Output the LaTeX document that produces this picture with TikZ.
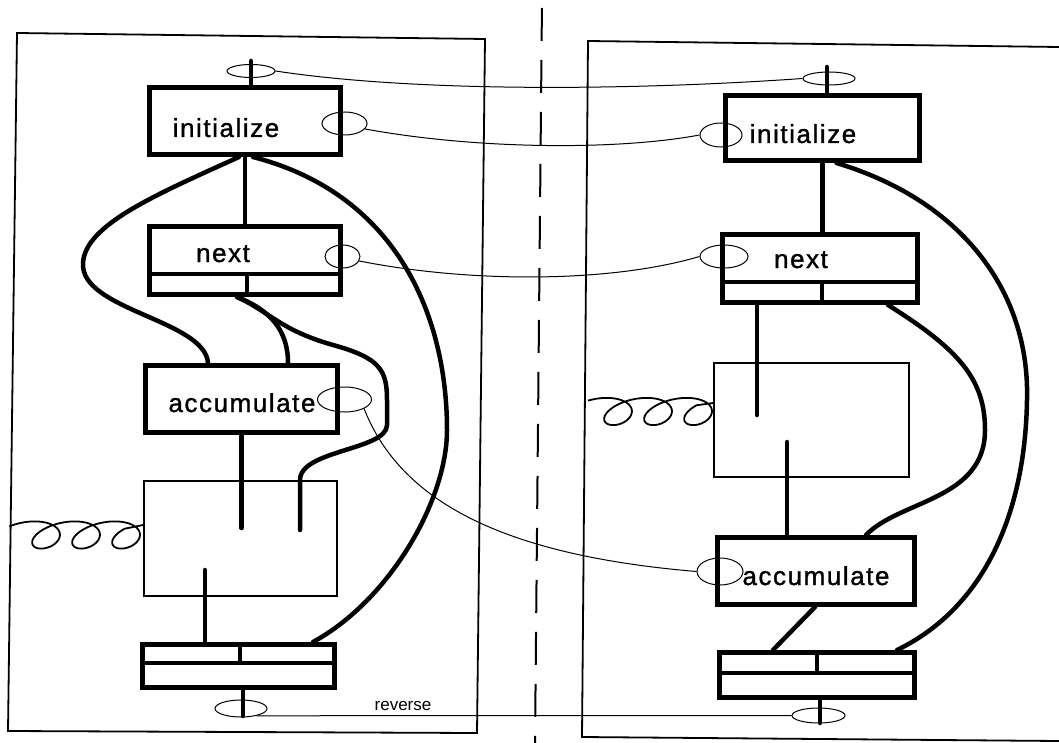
\documentclass[tikz,border=0pt]{standalone}
\usepackage{fontspec}
\setmainfont{Liberation Sans}
\newfontfamily\labfont[LetterSpace=6,FakeBold=1.2]{Liberation Sans}
\usetikzlibrary{shapes.geometric}
\begin{document}
\begin{tikzpicture}[x=1pt,y=-1pt,
  thickbox/.style={draw, rectangle, line width=5pt, inner sep=0pt},
  thinbox/.style={draw, rectangle, line width=1.8pt, inner sep=0pt},
  wire/.style={line width=4.5pt, line cap=round},
  thread/.style={line width=1pt},
  coilline/.style={line width=1.8pt},
  loopnode/.style={draw, ellipse, line width=1pt, inner sep=0pt},
  lab/.style={font=\labfont\fontsize{26}{30}\selectfont, inner sep=0pt, anchor=base},
  smalllab/.style={font=\fontsize{17}{20}\selectfont, inner sep=0pt, anchor=base},
  panel/.style={line width=1.8pt},
  divline/.style={line width=2pt, dash pattern=on 33pt off 19pt, dash phase=44pt}]
\useasboundingbox (0,0) rectangle (1059,743);

% panels and divider
\draw[panel] (17,33) -- (485,39) -- (477,733) -- (8,731) -- cycle;
\draw[panel] (1059,47) -- (588,41) -- (582,737) -- (1059,741);
\draw[divline] (542,0) -- (535,743);

% left boxes
\node[thickbox, minimum width=191, minimum height=67] (initL) at (245,121) {};
\node[thickbox, minimum width=191, minimum height=68] (nextL) at (245,260.5) {};
\node[thickbox, minimum width=192, minimum height=67] (accL) at (241.5,399) {};
\node[thinbox, minimum width=193, minimum height=115] (bigL) at (240.5,538.5) {};
\node[thickbox, minimum width=192, minimum height=43] (botL) at (238.5,666) {};

% right boxes
\node[thickbox, minimum width=194, minimum height=65] (initR) at (822.5,128) {};
\node[thickbox, minimum width=195, minimum height=68] (nextR) at (820,268.5) {};
\node[thinbox, minimum width=195, minimum height=114] (bigR) at (811.5,420) {};
\node[thickbox, minimum width=197, minimum height=67] (accR) at (816,571) {};
\node[thickbox, minimum width=195, minimum height=45] (botR) at (817,675) {};

% compartments
\draw[wire, line cap=butt] ([yshift=23]nextL.south west) -- ([yshift=23]nextL.south east);
\draw[wire, line cap=butt] ([xshift=2]nextL.south) -- ([xshift=2,yshift=23]nextL.south);
\draw[wire, line cap=butt] ([yshift=-21]botL.north west) -- ([yshift=-21]botL.north east);
\draw[wire, line cap=butt] ([xshift=1.5]botL.north) -- ([xshift=1.5,yshift=-21]botL.north);
\draw[wire, line cap=butt] ([yshift=23]nextR.south west) -- ([yshift=23]nextR.south east);
\draw[wire, line cap=butt] ([xshift=2]nextR.south) -- ([xshift=2,yshift=23]nextR.south);
\draw[wire, line cap=butt] ([yshift=-23]botR.north west) -- ([yshift=-23]botR.north east);
\draw[wire, line cap=butt] (botR.north) -- ([yshift=-23]botR.north);

% texts
\node[lab] (tInitL) at (226,137) {initialize};
\node[lab] (tNextL) at (223,262) {next};
\node[lab] (tAccL) at (242,412) {accumulate};
\node[lab] (tInitR) at (803,143) {initialize};
\node[lab] (tNextR) at (801,268) {next};
\node[lab] (tAccR) at (816,585) {accumulate};
\node[smalllab] (tRev) at (403,710) {reverse};

% loops
\node[loopnode, minimum width=48, minimum height=13] (ltl) at (251,71) {};
\node[loopnode, minimum width=45, minimum height=23] (lil) at (344.5,123.5) {};
\node[loopnode, minimum width=35, minimum height=23] (lnl) at (342.5,256.5) {};
\node[loopnode, minimum width=54, minimum height=25] (lal) at (344.5,399.5) {};
\node[loopnode, minimum width=52, minimum height=17] (lbl) at (241,708.5) {};
\node[loopnode, minimum width=52, minimum height=13] (rtl) at (829,78.5) {};
\node[loopnode, minimum width=42, minimum height=24] (ril) at (721,135) {};
\node[loopnode, minimum width=48, minimum height=23] (rnl) at (724,256.5) {};
\node[loopnode, minimum width=46, minimum height=27] (ral) at (720,571.5) {};
\node[loopnode, minimum width=53, minimum height=15] (rbl) at (818.5,715.5) {};

% threads between the two sides
\draw[thread] (ltl.east) .. controls (420,93) and (640,90) .. (rtl.west);
\draw[thread] (lil.-15) .. controls (480,150) and (620,150) .. (ril.west);
\draw[thread] (lnl.-15) .. controls (470,283) and (610,283) .. (rnl.west);
\draw[thread] (lal.-25) .. controls (400,500) and (500,555) .. (ral.west);
\draw[thread] (lbl.-25) -- (rbl.west);

% left wires
\coordinate (ltop) at (251,61);
\draw[wire] (ltop) -- (ltop |- initL.north);
\draw[wire] (initL.south) -- (nextL.north);
\draw[wire] ([xshift=-6]initL.south) .. controls (155,195) and (85,225) .. (83,263)
  .. controls (80,310) and (205,320) .. ([xshift=-33.5]accL.north);
\draw[wire] ([xshift=-8]nextL.south) .. controls (270,310) and (288,330) .. ([xshift=46.5]accL.north);
\coordinate (lendB) at (300,530);
\draw[wire] ([xshift=-8]nextL.south) .. controls (270,312) and (280,330) .. (333,345)
  .. controls (380,358) and (387,370) .. (387,400) -- (387,425)
  .. controls (387,450) and (300,450) .. (300,480) -- (lendB);
\draw[wire] ([xshift=8]initL.south) .. controls (400,195) and (447,320) .. (447,430)
  .. controls (447,500) and (390,600) .. ([xshift=74.5]botL.north);
\coordinate (lin1) at (241.5,528);
\draw[wire] (accL.south) -- (lin1);
\coordinate (lin2) at (205,570);
\draw[wire] (lin2) -- (lin2 |- botL.north);
\coordinate (lbot) at (243,716);
\draw[wire] (lbot |- botL.south) -- (lbot);

% right wires
\coordinate (rtop) at (827,67);
\draw[wire] (rtop) -- (rtop |- initR.north);
\draw[wire] (initR.south) -- (initR.south |- nextR.north);
\coordinate (rin1) at (757,415);
\draw[wire] (rin1 |- nextR.south) -- (rin1);
\coordinate (rin2) at (787,442);
\draw[wire] (rin2) -- (rin2 |- accR.north);
\draw[wire] ([xshift=68]nextR.south) .. controls (960,350) and (985,380) .. (985,430)
  .. controls (985,500) and (900,500) .. ([xshift=50]accR.north);
\draw[wire] ([xshift=14]initR.south) .. controls (960,200) and (1030,290) .. (1027,400)
  .. controls (1025,520) and (980,610) .. ([xshift=80]botR.north);
\draw[wire] ([xshift=-1]accR.south) -- ([xshift=-44]botR.north);
\coordinate (rbot) at (820,723);
\draw[wire] (rbot |- botR.south) -- (rbot);

% coils
\draw[coilline] plot[domain=2.55:21.2, samples=240, smooth]
  ({6+6.37*\x-23*sin(\x r)},{535+13*cos(\x r)+4*sin(\x r)}) -- ([yshift=13.5]bigL.west);
\draw[coilline] plot[domain=2.8:21.2, samples=240, smooth]
  ({578+6.37*\x-23*sin(\x r)},{411.5+13*cos(\x r)+4*sin(\x r)}) -- ([yshift=17]bigR.west);
\end{tikzpicture}
\end{document}
